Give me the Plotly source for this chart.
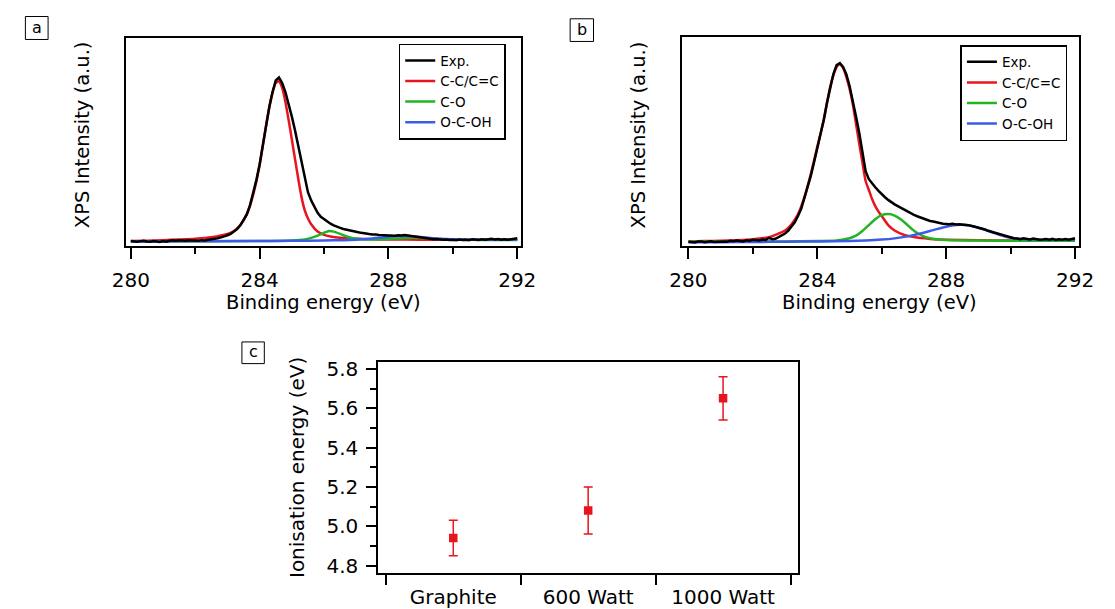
import plotly.graph_objects as go

W, H = 1115, 609
FONT = "DejaVu Sans"

# ---------------- data ----------------
energy_exp = [
    280.0, 280.1, 280.2, 280.3, 280.4, 280.5, 280.6, 280.7, 280.8, 280.9,
    281.0, 281.1, 281.2, 281.3, 281.4, 281.5, 281.6, 281.7, 281.8, 281.9,
    282.0, 282.1, 282.2, 282.3, 282.4, 282.5, 282.6, 282.7, 282.8, 282.9,
    283.0, 283.1, 283.2, 283.3, 283.4, 283.5, 283.6, 283.7, 283.8, 283.9,
    284.0, 284.1, 284.2, 284.3, 284.4, 284.5, 284.6, 284.7, 284.8, 284.9,
    285.0, 285.1, 285.2, 285.3, 285.4, 285.5, 285.6, 285.7, 285.8, 285.9,
    286.0, 286.1, 286.2, 286.3, 286.4, 286.5, 286.6, 286.7, 286.8, 286.9,
    287.0, 287.1, 287.2, 287.3, 287.4, 287.5, 287.6, 287.7, 287.8, 287.9,
    288.0, 288.1, 288.2, 288.3, 288.4, 288.5, 288.6, 288.7, 288.8, 288.9,
    289.0, 289.1, 289.2, 289.3, 289.4, 289.5, 289.6, 289.7, 289.8, 289.9,
    290.0, 290.1, 290.2, 290.3, 290.4, 290.5, 290.6, 290.7, 290.8, 290.9,
    291.0, 291.1, 291.2, 291.3, 291.4, 291.5, 291.6, 291.7, 291.8, 291.9,
    292.0,
]

exp_a = [
    0.3, 0.0, -0.2, 0.2, 0.4, 0.0, -0.2, 0.3, 0.1, -0.3,
    0.2, -0.1, 0.4, 0.7, 0.5, 0.8, 0.6, 0.4, 0.7, 0.5,
    0.6, 0.4, 0.8, 0.6, 1.0, 1.2, 1.7, 2.0, 2.5, 3.0,
    3.8, 4.6, 5.8, 7.5, 9.8, 12.8, 16.5, 22.0, 29.0, 37.5,
    47.0, 59.0, 71.0, 82.0, 91.0, 98.0, 99.8, 96.5, 91.0, 84.0,
    76.0, 67.5, 58.0, 48.0, 38.5, 30.0, 25.0, 21.0, 17.5, 15.0,
    13.5, 12.0, 10.8, 9.8, 8.9, 8.3, 7.6, 7.1, 6.6, 6.2,
    5.9, 5.4, 5.2, 4.7, 4.5, 4.2, 4.3, 3.9, 3.8, 3.5,
    3.6, 3.3, 3.5, 3.8, 3.6, 3.9, 3.6, 3.3, 3.4, 2.9,
    2.6, 2.2, 1.9, 1.7, 1.4, 1.5, 1.1, 1.0, 1.2, 0.9,
    1.1, 0.8, 1.2, 0.9, 1.1, 0.8, 1.3, 1.0, 0.9, 1.3,
    1.1, 1.4, 1.6, 1.2, 1.5, 1.1, 1.3, 1.0, 1.3, 1.7,
    2.0,
]

exp_b = [
    0.2, -0.1, -0.2, 0.3, 0.4, 0.0, 0.2, 0.5, 0.1, 0.3,
    0.6, 0.4, 0.2, 0.7, 0.5, 0.9, 0.6, 0.4, 1.0, 0.8,
    1.3, 1.0, 0.9, 1.4, 1.2, 2.4, 1.6, 1.9, 2.8, 3.6,
    4.8, 6.4, 8.4, 11.0, 14.5, 18.5, 24.6, 30.5, 37.0, 44.5,
    52.0, 59.5, 68.0, 77.5, 86.5, 93.5, 98.5, 99.6, 97.5, 93.5,
    87.0, 79.0, 70.0, 61.0, 50.0, 39.5, 35.0, 32.5, 30.5, 28.5,
    26.5, 25.0, 23.5, 22.0, 21.0, 20.0, 19.0, 17.8, 17.0, 16.0,
    15.2, 14.4, 13.8, 12.8, 12.4, 11.8, 11.5, 11.0, 10.8, 10.2,
    10.1, 9.9, 10.2, 9.8, 10.0, 9.9, 9.6, 9.4, 9.0, 8.6,
    8.2, 7.6, 7.0, 6.3, 5.8, 5.2, 4.7, 4.1, 3.5, 2.9,
    2.6, 2.2, 2.0, 1.6, 2.1, 1.8, 1.5, 2.0, 1.6, 1.3,
    1.5, 1.8, 1.4, 1.8, 1.2, 1.6, 1.3, 1.7, 1.4, 1.9,
    2.2,
]

# fitted components, panel a
cc_a_x = [280.0, 280.5, 281.0, 281.5, 282.0, 282.5, 283.0, 283.2, 283.4, 283.6,
          283.8, 284.0, 284.1, 284.2, 284.3, 284.4, 284.5, 284.6, 284.7, 284.8,
          284.9, 285.0, 285.1, 285.2, 285.3, 285.4, 285.5, 285.6, 285.8, 286.0,
          286.2, 286.5, 287.0, 287.5, 288.0, 289.0, 290.0, 291.0, 292.0]
cc_a_y = [0.3, 0.5, 0.8, 1.2, 1.7, 2.6, 4.6, 6.4, 10.0, 16.5,
          28.5, 46.5, 58.5, 70.5, 81.5, 90.5, 96.5, 97.5, 93.5, 85.0,
          74.0, 62.0, 50.0, 38.0, 27.0, 19.0, 14.0, 10.5, 6.0, 4.0,
          3.0, 2.2, 1.6, 1.3, 1.2, 1.1, 1.0, 1.0, 1.0]
co_a_x = [280.0, 282.0, 284.0, 285.0, 285.4, 285.6, 285.8, 286.0, 286.15, 286.3,
          286.5, 286.7, 286.9, 287.2, 287.6, 288.0, 288.4, 288.8, 289.2, 289.6,
          290.0, 291.0, 292.0]
co_a_y = [0.0, 0.1, 0.3, 0.6, 1.2, 2.2, 3.6, 5.3, 6.4, 6.0,
          4.6, 3.0, 1.9, 1.3, 1.2, 1.5, 2.0, 2.2, 2.0, 1.5,
          1.1, 0.9, 0.9]
oco_a_x = [280.0, 281.0, 282.0, 283.0, 284.0, 285.0, 286.0, 286.6, 287.0, 287.4,
           287.8, 288.1, 288.4, 288.7, 289.0, 289.3, 289.6, 290.0, 290.5, 291.0,
           292.0]
oco_a_y = [-0.2, 0.0, 0.1, 0.2, 0.3, 0.4, 0.6, 0.8, 1.1, 1.6,
           2.4, 3.0, 3.3, 3.2, 2.7, 2.1, 1.6, 1.3, 1.1, 1.0,
           1.0]

# fitted components, panel b
cc_b_x = [280.0, 280.5, 281.0, 281.5, 282.0, 282.5, 283.0, 283.2, 283.4, 283.6,
          283.8, 284.0, 284.2, 284.4, 284.5, 284.6, 284.7, 284.8, 284.9, 285.0,
          285.1, 285.2, 285.3, 285.4, 285.5, 285.6, 285.7, 285.8, 285.9, 286.0,
          286.2, 286.4, 286.7, 287.0, 287.5, 288.0, 289.0, 290.0, 291.0, 292.0]
cc_b_y = [0.4, 0.6, 0.8, 1.1, 1.6, 2.8, 6.5, 10.0, 15.5, 25.0,
          38.0, 53.0, 68.0, 86.5, 93.0, 97.5, 99.0, 97.0, 92.0, 85.5,
          77.0, 66.0, 55.0, 44.5, 34.0, 29.0, 24.0, 20.0, 17.0, 14.5,
          9.5, 6.5, 4.0, 2.8, 1.8, 1.3, 1.0, 0.9, 0.8, 0.8]
co_b_x = [280.0, 282.0, 283.0, 284.0, 284.6, 285.0, 285.2, 285.4, 285.6, 285.8,
          286.0, 286.2, 286.4, 286.6, 286.8, 287.0, 287.2, 287.4, 287.7, 288.0,
          289.0, 290.0, 291.0, 292.0]
co_b_y = [0.2, 0.3, 0.4, 0.6, 0.9, 2.2, 3.6, 6.2, 9.5, 12.8,
          15.0, 15.6, 14.8, 12.6, 9.5, 6.4, 4.1, 2.6, 1.6, 1.2,
          0.9, 0.8, 0.8, 0.8]
oco_b_x = [280.0, 281.0, 282.0, 283.0, 284.0, 285.0, 285.5, 286.0, 286.4, 286.8,
           287.2, 287.6, 288.0, 288.3, 288.6, 288.9, 289.2, 289.5, 289.8, 290.1,
           290.5, 291.0, 292.0]
oco_b_y = [-0.1, 0.0, 0.1, 0.2, 0.4, 0.6, 0.9, 1.4, 2.1, 3.2,
           4.8, 6.7, 8.6, 9.6, 9.6, 8.6, 7.0, 5.0, 3.3, 2.2,
           1.6, 1.3, 1.3]

series_names = ["Exp.", "C-C/C=C", "C-O", "O-C-OH"]
series_colors = ["#000000", "#e8141e", "#22b422", "#3a5ce6"]

# panel c
samples = ["Graphite", "600 Watt", "1000 Watt"]
ionisation = [4.94, 5.08, 5.65]
ionisation_err = [0.09, 0.12, 0.11]

# ---------------- helpers ----------------
def px(x):
    return x / W

def py(y):
    return 1 - y / H

fig = go.Figure()

def add_panel(xa, ya, legend, exp_y, comps):
    for (cx, cy), name, color in zip(comps, series_names[1:], series_colors[1:]):
        fig.add_trace(go.Scatter(
            x=cx, y=cy, name=name, mode="lines",
            line=dict(color=color, width=2.5, shape="spline", smoothing=0.6),
            xaxis=xa, yaxis=ya, legend=legend,
            legendrank=series_names.index(name) + 1,
        ))
    fig.add_trace(go.Scatter(
        x=energy_exp, y=exp_y, name=series_names[0], mode="lines",
        line=dict(color=series_colors[0], width=2.5),
        xaxis=xa, yaxis=ya, legend=legend, legendrank=1,
    ))

add_panel("x", "y", "legend", exp_a,
          [(cc_a_x, cc_a_y), (co_a_x, co_a_y), (oco_a_x, oco_a_y)])
add_panel("x2", "y2", "legend2", exp_b,
          [(cc_b_x, cc_b_y), (co_b_x, co_b_y), (oco_b_x, oco_b_y)])

fig.add_trace(go.Scatter(
    x=samples, y=ionisation, mode="markers", showlegend=False,
    marker=dict(symbol="square", size=8.5, color="#e8141e"),
    error_y=dict(type="data", array=ionisation_err, color="#e8141e",
                 thickness=1.5, width=4.5),
    xaxis="x3", yaxis="y3",
))

frame = dict(showline=True, linewidth=2, linecolor="black", mirror=True,
             showgrid=False, zeroline=False)
tick_font = dict(family=FONT, size=20, color="black")

def energy_axis(domain, rng, anchor):
    return dict(domain=domain, range=rng, tick0=280, dtick=4, anchor=anchor,
                ticks="outside", ticklen=11, tickwidth=2, tickcolor="black",
                tickfont=tick_font, ticklabelstandoff=4,
                minor=dict(tick0=280, dtick=2, ticks="outside", ticklen=6,
                           tickwidth=2, tickcolor="black", showgrid=False),
                **frame)

def intensity_axis(domain, rng, anchor):
    return dict(domain=domain, range=rng, showticklabels=False, ticks="",
                anchor=anchor, **frame)

legend_style = dict(xanchor="left", yanchor="top", bgcolor="white",
                    bordercolor="black", borderwidth=1.5,
                    font=dict(family=FONT, size=13.5, color="black"),
                    itemwidth=30, traceorder="normal")

annotations = []

def text(t, x, y, angle=0, size=19.5):
    annotations.append(dict(text=t, x=px(x), y=py(y), xref="paper", yref="paper",
                            showarrow=False, textangle=angle, xanchor="center",
                            yanchor="middle",
                            font=dict(family=FONT, size=size, color="black")))

shapes = []

def label_box(t, x0, y0, x1, y1):
    shapes.append(dict(type="rect", xref="paper", yref="paper",
                       x0=px(x0), x1=px(x1), y0=py(y1), y1=py(y0),
                       line=dict(color="black", width=1)))
    text(t, (x0 + x1) / 2, (y0 + y1) / 2 - 1, size=16)

text("Binding energy (eV)", 318, 302)
text("Binding energy (eV)", 889, 302)
text("XPS Intensity (a.u.)", 70, 132, angle=-90)
text("XPS Intensity (a.u.)", 641, 132, angle=-90)
text("Ionisation energy (eV)", 290, 469.5, angle=-90, size=20)
label_box("a", 11.7, 11.7, 35, 35)
label_box("b", 571, 14, 595, 37)
label_box("c", 234, 342, 257, 364)

fig.update_layout(
    width=W, height=H, margin=dict(l=0, r=0, t=0, b=0),
    paper_bgcolor="white", plot_bgcolor="white",
    xaxis=energy_axis([px(115), px(521)], [279.85, 292.13], "y"),
    yaxis=intensity_axis([py(245), py(33)], [-3.0, 124.2], "x"),
    xaxis2=energy_axis([px(685.5), px(1093)], [279.79, 292.11], "y2"),
    yaxis2=intensity_axis([py(245), py(32)], [-2.36, 114.4], "x2"),
    xaxis3=dict(domain=[px(374), px(805)], type="category",
                categoryorder="array", categoryarray=samples,
                range=[-0.556, 2.556], anchor="y3", tickson="boundaries",
                ticks="outside", ticklen=10, tickwidth=2, tickcolor="black",
                tickfont=tick_font, ticklabelstandoff=5, **frame),
    yaxis3=dict(domain=[py(577), py(362)], range=[4.76, 5.8366], anchor="x3",
                tick0=4.8, dtick=0.2, tickformat=".1f",
                ticks="outside", ticklen=10, tickwidth=2, tickcolor="black",
                tickfont=tick_font, ticklabelstandoff=4,
                minor=dict(tick0=4.8, dtick=0.1, ticks="outside", ticklen=6,
                           tickwidth=2, tickcolor="black", showgrid=False),
                **frame),
    legend=dict(x=px(395), y=py(39.3), **legend_style),
    legend2=dict(x=px(971.7), y=py(40.7), **legend_style),
    annotations=annotations,
    shapes=shapes,
)

fig.write_html(
    "out.html",
    config={"displayModeBar": False},
    post_script="document.body.style.margin='0';document.body.style.overflow='hidden';",
)
